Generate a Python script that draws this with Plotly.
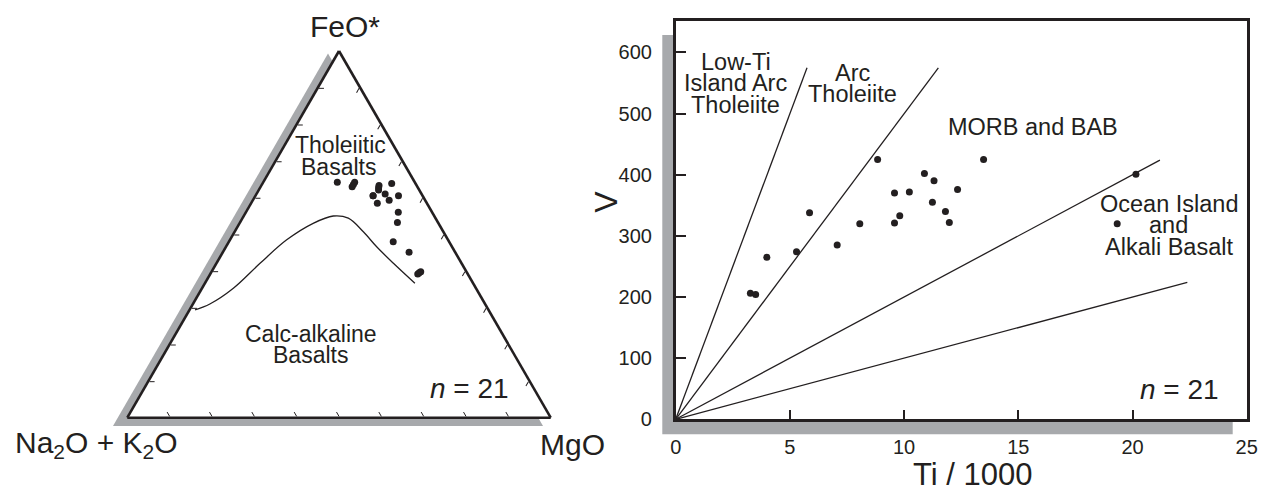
import plotly.graph_objects as go

W, H = 1262, 487
INK = "#231f20"
GRAY = "#a7a9ac"
FONT = "Liberation Sans, Arial, sans-serif"

# ---------------- AFM ternary data (fractions) ----------------
afm_feo = [0.642, 0.630, 0.642, 0.633, 0.621, 0.639, 0.605, 0.610, 0.605, 0.585,
           0.593, 0.560, 0.532, 0.480, 0.451, 0.392, 0.398, 0.636, 0.627, 0.395, 0.605]
afm_mgo = [0.175, 0.216, 0.216, 0.278, 0.283, 0.305, 0.278, 0.304, 0.338, 0.298,
           0.322, 0.360, 0.372, 0.388, 0.440, 0.490, 0.494, 0.216, 0.280, 0.492, 0.278]
afm_alk = [0.183, 0.154, 0.142, 0.089, 0.096, 0.056, 0.117, 0.086, 0.057, 0.117,
           0.085, 0.080, 0.096, 0.132, 0.109, 0.118, 0.108, 0.148, 0.093, 0.113, 0.117]

# Tholeiitic / calc-alkaline boundary (Irvine & Baragar)
bnd_feo = [0.294, 0.310, 0.353, 0.421, 0.485, 0.530, 0.550, 0.544, 0.507, 0.466, 0.421, 0.3665]
bnd_mgo = [0.013, 0.040, 0.074, 0.103, 0.134, 0.174, 0.2115, 0.250, 0.304, 0.356, 0.418, 0.496]
bnd_alk = [0.693, 0.650, 0.573, 0.476, 0.381, 0.296, 0.2385, 0.206, 0.189, 0.178, 0.161, 0.1375]

# ---------------- Ti-V data ----------------
ti_k = [3.27, 3.50, 3.99, 5.29, 5.86, 7.07, 8.06, 8.84, 9.58, 9.58, 9.81,
        10.23, 10.89, 11.24, 11.31, 11.81, 11.98, 12.34, 13.48, 19.33, 20.15]
v_ppm = [206, 204, 265, 274, 338, 285, 320, 425, 370, 321, 333,
         372, 402, 355, 390, 340, 322, 376, 425, 320, 401]

# Ti/V ratio discriminant lines and where each line ends (Ti/1000)
tiv_ratios = [10, 20, 50, 100]
tiv_line_end = [5.75, 11.5, 21.2, 22.4]

x_ticks = [0, 5, 10, 15, 20, 25]
y_ticks = [0, 100, 200, 300, 400, 500, 600]


def fx(px):
    return px / W


def fy(py):
    return 1 - py / H


fig = go.Figure()

# gray "shadow" ternary (drawn first, underneath)
fig.add_trace(go.Scatterternary(a=[], b=[], c=[], subplot="ternary", showlegend=False))

# boundary curve
fig.add_trace(go.Scatterternary(
    a=bnd_feo, b=bnd_alk, c=bnd_mgo, mode="lines", subplot="ternary2",
    line=dict(color=INK, width=1.3, shape="spline"), showlegend=False, hoverinfo="skip"))
# samples
fig.add_trace(go.Scatterternary(
    a=afm_feo, b=afm_alk, c=afm_mgo, mode="markers", subplot="ternary2",
    marker=dict(color=INK, size=7), showlegend=False))

# Ti-V discriminant lines
for r, e in zip(tiv_ratios, tiv_line_end):
    fig.add_trace(go.Scatter(
        x=[0, e], y=[0, e * 1000 / r], mode="lines",
        line=dict(color=INK, width=1.3), showlegend=False, hoverinfo="skip",
        xaxis="x", yaxis="y"))
fig.add_trace(go.Scatter(
    x=ti_k, y=v_ppm, mode="markers", marker=dict(color=INK, size=7),
    showlegend=False, xaxis="x", yaxis="y", cliponaxis=False))

hidden_axis = dict(showline=False, showgrid=False, ticks="", showticklabels=False,
                   title=dict(text=""))
main_axis = dict(showline=True, linecolor=INK, linewidth=2.6, showgrid=False,
                 ticks="inside", ticklen=5, tickwidth=1, tickcolor=INK,
                 showticklabels=False, tick0=0, dtick=0.1, title=dict(text=""))

fig.update_layout(
    width=W, height=H,
    margin=dict(l=0, r=0, t=0, b=0, autoexpand=False),
    paper_bgcolor="white",
    plot_bgcolor="rgba(0,0,0,0)",
    font=dict(family=FONT, color=INK),
    showlegend=False,
    ternary=dict(
        sum=1, bgcolor=GRAY,
        domain=dict(x=[fx(113), fx(543)], y=[fy(426), fy(53.6)]),
        aaxis=hidden_axis, baxis=hidden_axis, caxis=hidden_axis),
    ternary2=dict(
        sum=1, bgcolor="white",
        domain=dict(x=[fx(127.3), fx(550.7)], y=[fy(417.7), fy(51)]),
        aaxis=main_axis, baxis=main_axis, caxis=main_axis),
    xaxis=dict(
        domain=[fx(675.7), fx(1246.7)], range=[0, 25], automargin=False,
        tickvals=x_ticks, ticktext=[str(t) for t in x_ticks],
        showline=True, mirror=True, linecolor=INK, linewidth=2.6,
        ticks="inside", ticklen=10, tickwidth=2, tickcolor=INK,
        showgrid=False, zeroline=False,
        tickfont=dict(size=20, color=INK), ticklabelstandoff=8, anchor="y"),
    yaxis=dict(
        domain=[fy(419.3), fy(20.7)], range=[0, 652], automargin=False,
        tickvals=y_ticks, ticktext=[str(t) for t in y_ticks],
        showline=True, mirror=True, linecolor=INK, linewidth=2.6,
        ticks="inside", ticklen=10, tickwidth=2, tickcolor=INK,
        showgrid=False, zeroline=False,
        tickfont=dict(size=20, color=INK), ticklabelstandoff=17, anchor="x"),
    shapes=[
        dict(type="rect", xref="paper", yref="paper", layer="below",
             x0=fx(662.3), x1=fx(1232.7), y0=fy(434.3), y1=fy(35),
             fillcolor=GRAY, line=dict(width=0)),
        dict(type="rect", xref="paper", yref="paper", layer="below",
             x0=fx(675.7), x1=fx(1246.7), y0=fy(419.3), y1=fy(20.7),
             fillcolor="white", line=dict(width=0)),
    ],
)


def label(text, px, py, size, angle=0):
    fig.add_annotation(text=text, xref="paper", yref="paper", x=fx(px), y=fy(py),
                       xanchor="center", yanchor="middle", showarrow=False,
                       textangle=angle, font=dict(size=size, color=INK, family=FONT))


# ternary labels
label("FeO*", 344.7, 26.7, 30)
label("Na<sub>2</sub>O + K<sub>2</sub>O", 96.7, 444, 30)
label("MgO", 572, 444, 30)
label("Tholeiitic", 340.5, 145, 23)
label("Basalts", 338.7, 166.7, 23)
label("Calc-alkaline", 310.8, 334, 23)
label("Basalts", 310.7, 355, 23)
label("<i>n</i> = 21", 469, 388, 28)

# Ti-V labels
label("Low-Ti", 735.7, 61.7, 23.5)
label("Island Arc", 735.7, 83.3, 23.5)
label("Tholeiite", 735.7, 105, 23.5)
label("Arc", 853, 73, 23.5)
label("Tholeiite", 852, 94.5, 23.5)
label("MORB and BAB", 1033.3, 126.7, 23.5)
label("Ocean Island", 1169.3, 204, 23.5)
label("and", 1168.7, 225, 23.5)
label("Alkali Basalt", 1169.3, 246.5, 23.5)
label("<i>n</i> = 21", 1179.5, 389, 28)
label("V", 605.7, 202, 32, angle=-90)
label("Ti / 1000", 972.5, 474, 31)

fig.write_html("out.html",
               config={"displayModeBar": False},
               post_script="document.body.style.margin='0px';"
                           "document.body.style.overflow='hidden';")
